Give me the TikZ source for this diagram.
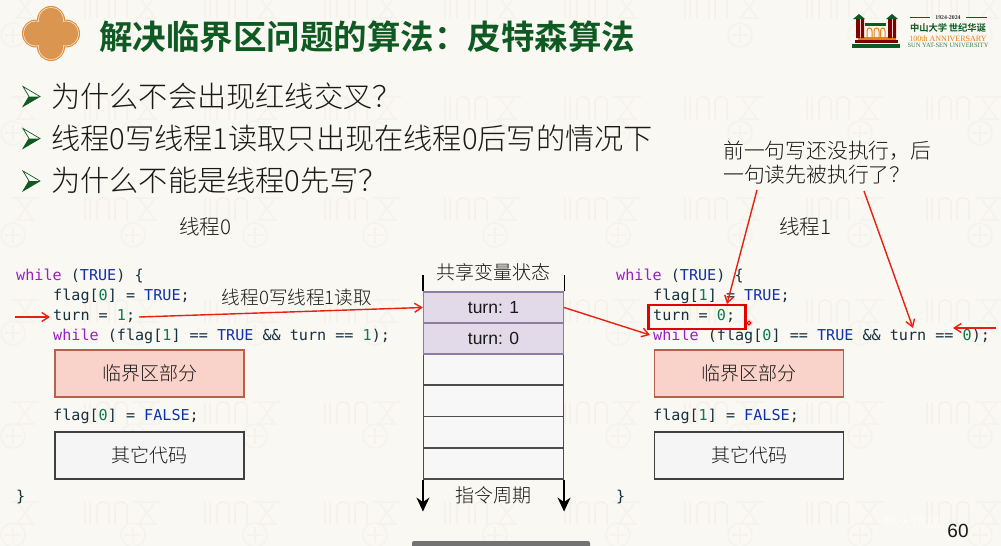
\documentclass[tikz,border=0pt]{standalone}
\usepackage{fontspec}
\usetikzlibrary{arrows.meta}
\setmainfont{Liberation Sans}
\newfontfamily\cjk{Noto Sans CJK SC Light}
\newfontfamily\cjkb{Noto Sans CJK SC Bold}
\newfontfamily\codef[FakeStretch=1.008]{DejaVu Sans Mono}
\newfontfamily\logoserif{Liberation Serif}
\definecolor{bgc}{HTML}{F9F8F3}
\definecolor{wm}{HTML}{F6F3EC}
\definecolor{wmr}{HTML}{F7F0E8}
\definecolor{titleg}{HTML}{0F5A23}
\definecolor{redl}{HTML}{E8200F}
\definecolor{kw}{HTML}{9A1FC0}
\definecolor{cb}{HTML}{1030B0}
\definecolor{cg}{HTML}{0A7A50}
\definecolor{codet}{HTML}{16303E}
\definecolor{redfill}{HTML}{F9D2CA}
\definecolor{rededge}{HTML}{B8604F}
\definecolor{purpfill}{HTML}{E3DAE9}
\definecolor{purpedge}{HTML}{8C7CA6}
\definecolor{orangeA}{HTML}{E08A30}
\definecolor{orangeB}{HTML}{F6E6D0}
\definecolor{orangeC}{HTML}{DA9650}
\newcommand{\Kw}[1]{\textcolor{kw}{#1}}
\newcommand{\Cb}[1]{\textcolor{cb}{#1}}
\newcommand{\Cg}[1]{\textcolor{cg}{#1}}
\tikzset{
 code/.style={anchor=base west,inner sep=0pt,font=\fontsize{15}{15}\codef,text=codet},
 bul/.style={anchor=base west,inner sep=0pt,font=\fontsize{29.2}{29}\cjk,text=black!90},
 lab/.style={inner sep=0pt,font=\fontsize{20.5}{20}\cjk,text=black!90},
 redbox/.style={draw=rededge,line width=1.2pt,fill=redfill,inner sep=0pt,font=\fontsize{19}{19}\cjk,text=black!90},
 graybox/.style={draw=black!75,line width=1.2pt,fill=black!4,inner sep=0pt,font=\fontsize{19}{19}\cjk,text=black!90},
 purp/.style={draw=purpedge,line width=1.3pt,fill=purpfill,inner sep=0pt,font=\fontsize{17.5}{17}\selectfont,text=black!90},
 cell/.style={draw=black!70,line width=1.1pt,fill=black!3,inner sep=0pt},
 rarr/.style={draw=redl,line width=1.4pt,-{Straight Barb[length=7pt,width=9pt]}},
 barr/.style={draw=black,line width=1.3pt,-{Stealth[length=14pt,width=13pt]}},
 wmk/.pic={\draw[wmr,line width=1.5pt] (0,0)--(0,-22) (5,0)--(5,-22) (12,0)--(12,-17) .. controls (12,-24) and (24,-24) .. (24,-17) -- (24,0) (30,0)--(30,-17) .. controls (30,-24) and (42,-24) .. (42,-17) -- (42,0);},
 wmi/.pic={\draw[wm,line width=1.6pt] (-14,-11)--(14,-11) (-10,11)--(10,11) (-8,-11)--(8,11) (8,-11)--(-8,11);},
 wmc/.pic={\draw[wm,line width=1.5pt] (0,0) circle(12); \draw[wm,line width=1.2pt] (-8,0)--(8,0) (0,-8)--(0,8);}
}
\begin{document}
\begin{tikzpicture}[x=1pt,y=-1pt]
\useasboundingbox (0,0) rectangle (1001,546);
\fill[bgc] (0,0) rectangle (1001,546);
% faint background pattern
\foreach \y in {18,119,220,322,424,524}{
 \foreach \x in {85,205,325,445,565,685,807,927}{\pic at (\x,\y) {wmk};}
 \foreach \x in {25,147,267,387,507,627,749,869,989}{\pic at (\x,\y-11) {wmi};}
}
\foreach \y in {35,133,235,333,436,535}{\foreach \x in {13,133,255,375,495,618,740,860,980}{\pic at (\x,\y) {wmc};}}
% title badge
\foreach \c/\r in {orangeA/14,orangeB/13,orangeC/12.2}{
 \fill[\c] (51,20) circle(\r) (51,47) circle(\r) (36,33.5) circle(\r) (66,33.5) circle(\r);
}
\fill[orangeC] (51,33.5) circle(14);
\node[anchor=base west,inner sep=0pt,font=\fontsize{33.5}{33}\cjkb,text=titleg] (title) at (99,49) {解决临界区问题的算法：皮特森算法};
% logo
\fill[titleg] (852,44) rectangle (900,48);
\fill[red!50!black] (855,40) rectangle (898,43);
\fill[orange!70!brown] (858,37) rectangle (896,39.5);
\fill[red!50!black] (856,19) rectangle (860,38) (861,19) rectangle (864,38) (888,19) rectangle (892,38) (893,19) rectangle (896,38);
\fill[titleg] (853,19) -- (859,14) -- (865,19) -- cycle (886,19) -- (892,14) -- (898,19) -- cycle;
\fill[titleg] (865,23) rectangle (886,26);
\draw[orange!70!brown,line width=1pt] (867,38)--(867,31) .. controls (867,27) and (872,27) .. (872,31)--(872,38) (874,38)--(874,31) .. controls (874,27) and (879,27) .. (879,31)--(879,38) (880.5,38)--(880.5,31) .. controls (880.5,27) and (885,27) .. (885,31)--(885,38);
\node[inner sep=0pt,font=\fontsize{5.8}{5.5}\bfseries\logoserif,text=black!80] (ly) at (948,17.5) {1924-2024};
\draw[titleg,line width=.6pt] (910,17.5)--(930,17.5) (966,17.5)--(987,17.5);
\node[inner sep=0pt,font=\fontsize{9.3}{9}\cjkb,text=titleg] (ln) at (948,28) {中山大学\,世纪华诞};
\node[inner sep=0pt,font=\fontsize{8}{8}\logoserif,text=orange!70!brown] (la) at (948,38.5) {100th ANNIVERSARY};
\node[inner sep=0pt,font=\fontsize{6.5}{6.5}\logoserif,text=titleg!80] (lu) at (948,45.5) {SUN YAT-SEN UNIVERSITY};
% bullets
\foreach \yy in {96.5,138.5,181}{
 \filldraw[fill=bgc,draw=titleg,line width=.7pt,line join=miter] (23,\yy-10) -- (40,\yy) -- (23,\yy+10) -- (29,\yy) -- cycle;
 \fill[titleg] (23,\yy+10) -- (40,\yy) -- (29,\yy) -- cycle;
}
\node[bul] (b1) at (51,107) {为什么不会出现红线交叉？};
\node[bul] (b2) at (51,149) {线程0写线程1读取只出现在线程0后写的情况下};
\node[bul] (b3) at (51,191) {为什么不能是线程0先写？};
% note
\node[anchor=base west,inner sep=0pt,font=\fontsize{20.8}{20.5}\cjk,text=black!90] (n1) at (723,158) {前一句写还没执行，后};
\node[anchor=base west,inner sep=0pt,font=\fontsize{20.8}{20.5}\cjk,text=black!90] (n2) at (723,182) {一句读先被执行了？};
\coordinate (n1s) at (757,190);
\coordinate (n2s) at (864,191);
% thread labels
\node[lab] (t0) at (205,227) {线程0};
\node[lab] (t1) at (805,227) {线程1};
% left code
\node[code] (l1) at (16,280) {\Kw{while} (\Cb{TRUE}) \{};
\node[code] (l2) at (53,300) {flag[\Cg{0}] = \Cb{TRUE};};
\node[code] (l3) at (53,320) {turn = \Cg{1};};
\node[code] (l4) at (53,340) {\Kw{while} (flag[\Cg{1}] == \Cb{TRUE} \&\& turn == \Cg{1});};
\node[code] (l5) at (53,420) {flag[\Cg{0}] = \Cb{FALSE};};
\node[code] (l6) at (16,501) {\}};
\node[redbox,minimum width=189pt,minimum height=47pt] (rb0) at (149.5,373.5) {临界区部分};
\node[graybox,minimum width=189pt,minimum height=47pt] (gb0) at (149.5,455.5) {其它代码};
\node[inner sep=0pt,font=\fontsize{18.6}{18}\cjk,text=black!90] (wl) at (297,297) {线程0写线程1读取};
% right code
\node[code] (r1) at (616,280) {\Kw{while} (\Cb{TRUE}) \{};
\node[code] (r2) at (653,300) {flag[\Cg{1}] = \Cb{TRUE};};
\node[code] (r3) at (653,320) {turn = \Cg{0};};
\node[code] (r4) at (653,340) {\Kw{while} (flag[\Cg{0}] == \Cb{TRUE} \&\& turn == \Cg{0});};
\node[code] (r5) at (653,420) {flag[\Cg{1}] = \Cb{FALSE};};
\node[code] (r6) at (616,501) {\}};
\node[redbox,minimum width=189pt,minimum height=47pt] (rb1) at (749,373.5) {临界区部分};
\node[graybox,minimum width=189pt,minimum height=47pt] (gb1) at (749,455.5) {其它代码};
% shared table
\node[inner sep=0pt,font=\fontsize{19}{19}\cjk,text=black!90] (sh) at (493,272) {共享变量状态};
\node[cell,minimum width=140pt,minimum height=31pt] (c3) at (493.5,369.5) {};
\node[cell,minimum width=140pt,minimum height=31pt] (c4) at (493.5,401) {};
\node[cell,minimum width=140pt,minimum height=31pt] (c5) at (493.5,432) {};
\node[cell,minimum width=140pt,minimum height=31pt] (c6) at (493.5,463.5) {};
\node[purp,minimum width=140pt,minimum height=31pt] (c1) at (493.5,307.5) {turn: 1};
\node[purp,minimum width=140pt,minimum height=31pt] (c2) at (493.5,338.5) {turn: 0};
\node[inner sep=0pt,font=\fontsize{19}{19}\cjk,text=black!90] (zq) at (493,495) {指令周期};
\draw[black,line width=1.3pt] (c1.north west)--++(0,-16) (c1.north east)--++(0,-16);
\draw[barr] (c6.south west)--++(0,32);
\draw[barr] (c6.south east)--++(0,32);
% red arrows
\coordinate (s0) at (15,317);
\coordinate (s1) at (139,317);
\coordinate (s3) at (996,328);
\coordinate (e0) at (50,317);
\coordinate (e3) at (953,328);
\coordinate (e4) at (727,304);
\coordinate (e5) at (913,328);
\coordinate (e6) at (650,335);
\draw[rarr] (s0)--(e0);
\draw[rarr] (s1)--(c1.west);
\draw[rarr] (c1.east)--(e6);
\draw[rarr] (s3)--(e3);
\draw[rarr] (n1s)--(e4);
\draw[rarr] (n2s)--(e5);
% highlight
\node[draw=red!90!black,line width=2.8pt,minimum width=97pt,minimum height=24pt,inner sep=0pt] (hl) at (697,317) {};
\fill[red!80!white,opacity=.15] (749,323) circle(4);
\draw[red!85!black,line width=1pt] (749,323) circle(1.8);
% overlay mark, page number, bar
\node[inner sep=0pt,font=\fontsize{14.5}{14}\cjk,text=white,opacity=.8] (mk) at (912,523) {鸭大坑局};
\node[inner sep=0pt,font=\fontsize{19}{19}\selectfont,text=black!90] (pg) at (958,531) {60};
\fill[black!55,rounded corners=2pt] (412,541) rectangle (590,550);
\end{tikzpicture}
\end{document}
